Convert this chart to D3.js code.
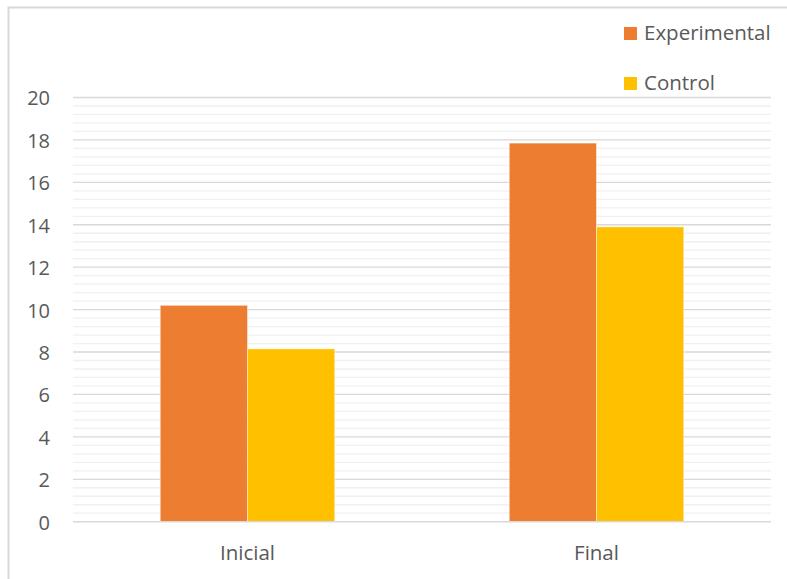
<!DOCTYPE html>
<html>
<head>
<meta charset="utf-8">
<script src="https://cdn.jsdelivr.net/npm/d3@7"></script>
<style>
  html, body { margin: 0; padding: 0; background: #fff; }
  svg { display: block; font-family: "Open Sans", "Noto Sans", sans-serif; }
</style>
</head>
<body>
<svg id="chart" width="787" height="579"></svg>
<script>
// Data
const categories = ["Inicial", "Final"];
const seriesNames = ["Experimental", "Control"];
const experimental = [10.2, 17.85];
const control = [8.15, 13.9];
const yTicks = [0, 2, 4, 6, 8, 10, 12, 14, 16, 18, 20];
const seriesColors = ["#ED7D31", "#FFC000"];

const svg = d3.select("#chart");
const plot = { left: 73, right: 771, top: 97.5, bottom: 521.7 };

// Outer chart frame
svg.append("rect")
  .attr("x", 8.5).attr("y", 7.5)
  .attr("width", 820).attr("height", 620)
  .attr("fill", "none")
  .attr("stroke", "#d9d9d9")
  .attr("stroke-width", 2);

const x = d3.scaleBand()
  .domain(categories)
  .range([plot.left, plot.right])
  .paddingInner(0.5)
  .paddingOuter(0.25);

const xInner = d3.scaleBand()
  .domain(seriesNames)
  .range([0, x.bandwidth()]);

const y = d3.scaleLinear()
  .domain([0, 20])
  .range([plot.bottom, plot.top]);

// Minor gridlines
const minorTicks = d3.range(0, 20.001, 0.4).filter(v => Math.abs(v / 2 - Math.round(v / 2)) > 1e-6);
svg.append("g")
  .selectAll("line")
  .data(minorTicks)
  .join("line")
  .attr("x1", plot.left).attr("x2", plot.right)
  .attr("y1", d => y(d)).attr("y2", d => y(d))
  .attr("stroke", "#f0f0f0")
  .attr("stroke-width", 1.3);

// Major gridlines
svg.append("g")
  .selectAll("line")
  .data(yTicks.filter(d => d !== 0))
  .join("line")
  .attr("x1", plot.left).attr("x2", plot.right)
  .attr("y1", d => y(d)).attr("y2", d => y(d))
  .attr("stroke", "#d9d9d9")
  .attr("stroke-width", 1.3);

// Bars
const rows = categories.map((c, i) => ({
  category: c,
  values: [
    { series: seriesNames[0], value: experimental[i], color: seriesColors[0] },
    { series: seriesNames[1], value: control[i], color: seriesColors[1] }
  ]
}));

svg.append("g")
  .selectAll("g")
  .data(rows)
  .join("g")
  .attr("transform", d => `translate(${x(d.category)},0)`)
  .selectAll("rect")
  .data(d => d.values)
  .join("rect")
  .attr("x", d => xInner(d.series))
  .attr("y", d => y(d.value))
  .attr("width", xInner.bandwidth())
  .attr("height", d => y(0) - y(d.value))
  .attr("fill", d => d.color)
  .attr("stroke", "rgba(255,255,255,0.45)")
  .attr("stroke-width", 1);

// Category axis baseline
svg.append("line")
  .attr("x1", plot.left).attr("x2", plot.right)
  .attr("y1", y(0)).attr("y2", y(0))
  .attr("stroke", "#d9d9d9")
  .attr("stroke-width", 1.5);

// Y tick labels
const yAxis = d3.axisLeft(y).tickValues(yTicks).tickSize(0).tickPadding(0);
const yg = svg.append("g")
  .attr("transform", "translate(50,0)")
  .call(yAxis);
yg.select(".domain").remove();
yg.selectAll("text")
  .attr("font-family", "\"Open Sans\", sans-serif")
  .attr("font-size", 20)
  .attr("fill", "#595959")
  .attr("dy", "0.37em");

// X category labels
const xAxis = d3.axisBottom(x).tickSize(0).tickPadding(0);
const xg = svg.append("g")
  .attr("transform", "translate(0,545)")
  .call(xAxis);
xg.select(".domain").remove();
xg.selectAll("text")
  .attr("font-family", "\"Open Sans\", sans-serif")
  .attr("font-size", 20.5)
  .attr("fill", "#595959");

// Legend
const legend = svg.append("g")
  .selectAll("g")
  .data(seriesNames)
  .join("g")
  .attr("transform", (d, i) => `translate(624,${27 + i * 50})`);
legend.append("rect")
  .attr("width", 13).attr("height", 13)
  .attr("fill", (d, i) => seriesColors[i]);
legend.append("text")
  .attr("x", 20).attr("y", 13)
  .attr("font-size", 20.5)
  .attr("fill", "#595959")
  .text(d => d);
</script>
</body>
</html>
